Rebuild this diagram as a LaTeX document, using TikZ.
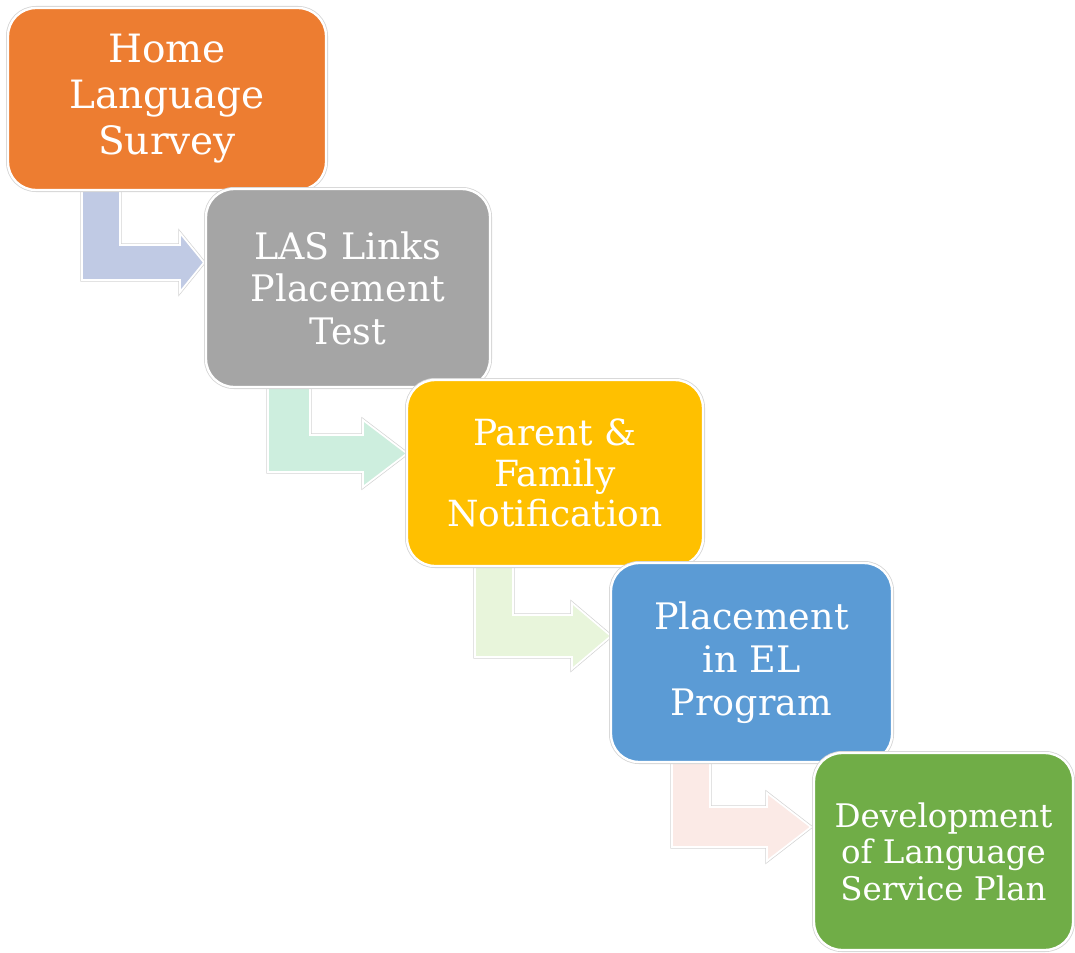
\documentclass[tikz,border=0pt]{standalone}
\usepackage{fontspec}
\setmainfont{DejaVu Serif}
\definecolor{cOrange}{HTML}{ED7D31}
\definecolor{cGray}{HTML}{A5A5A5}
\definecolor{cYellow}{HTML}{FFC000}
\definecolor{cBlue}{HTML}{5B9BD5}
\definecolor{cGreen}{HTML}{70AD47}
\definecolor{aBlue}{HTML}{C0CAE4}
\definecolor{aMint}{HTML}{CDEEDE}
\definecolor{aLime}{HTML}{E8F5DB}
\definecolor{aPink}{HTML}{FBEAE6}
\definecolor{halo}{HTML}{D4D4D4}
\tikzset{
  stepbox/.style={rounded corners=28pt, inner sep=0pt, text=white, align=center,
    preaction={draw=halo, line width=4pt}, draw=white, line width=2.4pt},
  bentarrow/.style={preaction={draw=halo, line width=3.2pt}, draw=white, line width=1.8pt, line join=miter}
}
\begin{document}
\begin{tikzpicture}[x=1pt,y=-1pt]
\useasboundingbox (0,0) rectangle (1075,952);
% connectors (bent arrows)
\filldraw[bentarrow, fill=aBlue] (82,190) -- (120,190) -- (120,245) -- (180,245) -- (180,233) -- (204,262.5) -- (180,292) -- (180,280) -- (82,280) -- cycle;
\filldraw[bentarrow, fill=aMint] (268,387) -- (310,387) -- (310,435) -- (363,435) -- (363,420) -- (407,453.5) -- (363,487) -- (363,472) -- (268,472) -- cycle;
\filldraw[bentarrow, fill=aLime] (475,566) -- (513,566) -- (513,615) -- (572,615) -- (572,603) -- (611,636) -- (572,669) -- (572,657) -- (475,657) -- cycle;
\filldraw[bentarrow, fill=aPink] (672,762) -- (710,762) -- (710,807) -- (767,807) -- (767,793) -- (811,827) -- (767,861) -- (767,847) -- (672,847) -- cycle;
% boxes
\node[stepbox, fill=cOrange, minimum width=318pt, minimum height=182pt, font=\fontsize{39}{46}\selectfont] (hls) at (167,99) {Home\\Language\\Survey};
\node[stepbox, fill=cGray, minimum width=284pt, minimum height=198pt, font=\fontsize{36.5}{42.5}\selectfont] (las) at (348,288) {LAS Links\\Placement\\Test};
\node[stepbox, fill=cYellow, minimum width=296pt, minimum height=186pt, font=\fontsize{36}{40.5}\selectfont] (pfn) at (555,473) {Parent \&\\Family\\Notification};
\node[stepbox, fill=cBlue, minimum width=281pt, minimum height=199pt, font=\fontsize{36.5}{43}\selectfont] (pel) at (751.5,662.5) {Placement\\in EL\\Program};
\node[stepbox, fill=cGreen, minimum width=259pt, minimum height=197pt, font=\fontsize{32.5}{36.5}\selectfont] (dlsp) at (943.5,851.5) {Development\\of Language\\Service Plan};
\end{tikzpicture}
\end{document}
